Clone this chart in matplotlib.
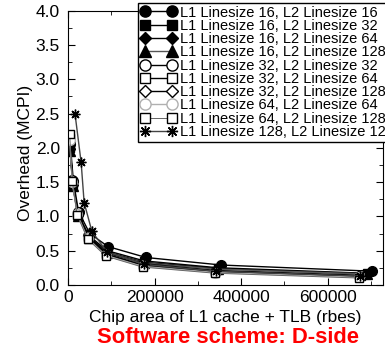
import matplotlib
matplotlib.use("Agg")
import matplotlib.pyplot as plt
from matplotlib.ticker import MultipleLocator

plt.rcParams['font.family'] = ['Liberation Sans', 'DejaVu Sans']

labels = [
    "L1 Linesize 16, L2 Linesize 16",
    "L1 Linesize 16, L2 Linesize 32",
    "L1 Linesize 16, L2 Linesize 64",
    "L1 Linesize 16, L2 Linesize 128",
    "L1 Linesize 32, L2 Linesize 32",
    "L1 Linesize 32, L2 Linesize 64",
    "L1 Linesize 32, L2 Linesize 128",
    "L1 Linesize 64, L2 Linesize 64",
    "L1 Linesize 64, L2 Linesize 128",
    "L1 Linesize 128, L2 Linesize 128",
]

x_16_16 = [5000, 12000, 24000, 50000, 92000, 180000, 354000, 703000]
x_16 = [4500, 11000, 23000, 48000, 90000, 176000, 347000, 690000]
x_32 = [4000, 10000, 22000, 46000, 88000, 174000, 342000, 678000]
x_64 = [3500, 9500, 21000, 45000, 87000, 172000, 340000, 672000]
x_128 = [16000, 30000, 37000, 55000, 90000, 175000, 342000, 675000]

y_16_16 = [2.05, 1.52, 1.07, 0.75, 0.56, 0.40, 0.29, 0.20]
y_16_32 = [2.00, 1.48, 1.03, 0.72, 0.50, 0.35, 0.25, 0.17]
y_16_64 = [1.98, 1.46, 1.02, 0.70, 0.48, 0.33, 0.24, 0.16]
y_16_128 = [1.95, 1.45, 1.00, 0.69, 0.47, 0.32, 0.23, 0.16]
y_32_32 = [2.10, 1.53, 1.06, 0.72, 0.47, 0.31, 0.21, 0.14]
y_32_64 = [2.15, 1.50, 1.04, 0.70, 0.45, 0.29, 0.20, 0.13]
y_32_128 = [2.08, 1.48, 1.02, 0.69, 0.44, 0.28, 0.19, 0.12]
y_64_64 = [2.12, 1.50, 1.03, 0.68, 0.43, 0.27, 0.18, 0.11]
y_64_128 = [2.20, 1.52, 1.02, 0.67, 0.42, 0.26, 0.17, 0.10]
y_128_128 = [2.49, 1.79, 1.20, 0.78, 0.48, 0.30, 0.20, 0.13]

xs = [x_16_16, x_16, x_16, x_16, x_32, x_32, x_32, x_64, x_64, x_128]
ys = [y_16_16, y_16_32, y_16_64, y_16_128, y_32_32, y_32_64, y_32_128,
      y_64_64, y_64_128, y_128_128]

styles = [
    dict(marker='o', mfc='black', mec='black', color='black', lw=1.0),
    dict(marker='s', mfc='black', mec='black', color='black', lw=1.0, ms_scale=0.9),
    dict(marker='D', mfc='black', mec='black', color='black', lw=1.0, ms_scale=0.75),
    dict(marker='^', mfc='black', mec='black', color='#555555', lw=1.0),
    dict(marker='o', mfc='white', mec='black', color='black', lw=1.0),
    dict(marker='s', mfc='white', mec='black', color='black', lw=1.0, ms_scale=0.9),
    dict(marker='D', mfc='white', mec='black', color='black', lw=1.0, ms_scale=0.75),
    dict(marker='o', mfc='white', mec='#b0b0b0', color='#b0b0b0', lw=1.0),
    dict(marker='s', mfc='white', mec='black', color='#666666', lw=0.7, ms_scale=0.9),
    dict(marker=(8, 2, 0), mfc='black', mec='black', color='#444444', lw=1.0),
]

fig = plt.figure(figsize=(3.85, 3.5), dpi=100)
ax = fig.add_axes([0.177, 0.186, 0.818, 0.783])

for x, y, st, lab in zip(xs, ys, styles, labels):
    st = dict(st)
    scale = st.pop('ms_scale', 1.0)
    ax.plot(x, y, label=lab, markersize=7 * scale, markeredgewidth=1.0, **st)

ax.set_xlim(0, 728000)
ax.set_ylim(0, 4.0)
ax.xaxis.set_major_locator(MultipleLocator(200000))
ax.xaxis.set_minor_locator(MultipleLocator(100000))
ax.yaxis.set_major_locator(MultipleLocator(0.5))
ax.yaxis.set_minor_locator(MultipleLocator(0.25))
ax.yaxis.set_major_formatter(matplotlib.ticker.FormatStrFormatter('%.1f'))
ax.tick_params(which='both', direction='in', top=True, right=True, labelsize=12.5)
ax.tick_params(axis='y', pad=6)
ax.tick_params(axis='x', pad=4)
ax.tick_params(which='major', length=5)
ax.tick_params(which='minor', length=3)

ax.set_ylabel("Overhead (MCPI)", fontsize=12.5)
ax.yaxis.set_label_coords(-0.112, 0.48)
ax.set_xlabel("Chip area of L1 cache + TLB (rbes)", fontsize=12.5, labelpad=3.3)
fig.text(0.593, 0.035, "Software scheme: D-side", color='red', fontsize=15.8,
         fontweight='bold', ha='center', va='center')

leg = ax.legend(loc='upper left', bbox_to_anchor=(0.222, 1.03), fontsize=10.5,
                numpoints=2, handlelength=2.4, handletextpad=0.3,
                labelspacing=-0.05, borderpad=0.2, borderaxespad=0,
                frameon=True, fancybox=False, framealpha=1, markerscale=1.15)
leg.get_frame().set_edgecolor('black')
leg.get_frame().set_linewidth(1.0)

fig.savefig("out.png", dpi=100)
